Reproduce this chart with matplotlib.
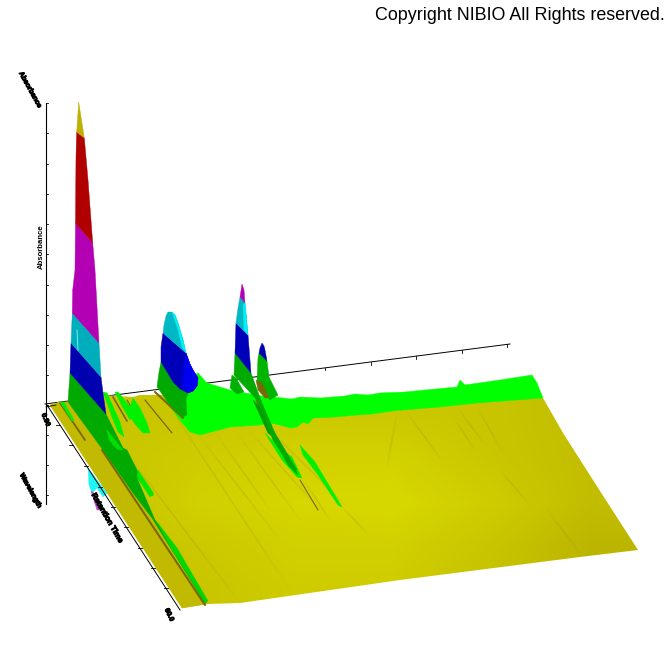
###########################################################################################################################
# 3D chromatogram surface (pixel coordinates)
###########################################################################################################################
# Imports
import numpy as np
import matplotlib
matplotlib.use('Agg')
import matplotlib.pyplot as plt
import matplotlib.patheffects as pe
from matplotlib.colors import LinearSegmentedColormap
from matplotlib.patches import Polygon

###########################################################################################################################
# Parameters
## Axes
vertical_axis_x = [45.5, 45.5]
vertical_axis_y = [103, 504]
vertical_ticks_y = [103, 133, 164, 194, 224, 254, 285, 315, 345, 375, 405, 435, 465, 495]
back_axis_x = [45, 510]
back_axis_y = [404, 344]
back_ticks_x = [325, 371, 416, 462, 507]
back_ticks_y = [367.9, 362, 356.2, 350.2, 344.4]
depth_axis_x = [47, 180]
depth_axis_y = [405, 610]
depth_ticks_x = [60, 73, 88, 102, 115, 128, 142, 155, 168]
depth_ticks_y = [425, 445, 466, 487, 507, 527, 548, 568, 588]

## Axis labels, too small to read in the picture: text, x, y, angle
label_text = ['Absorbance', 'Absorbance', '0.00', 'Wavelength', 'Retention Time', '60.0']
label_x = [30, 41, 45.5, 30.5, 106.5, 169]
label_y = [90, 247, 420, 491, 518, 615]
label_angle = [-61, 90, -67, -61, -60, -65]
label_size = [5.0, 5.6, 5.0, 5.0, 5.6, 5.0]
label_stroke = [0.7, 0, 0.7, 0.7, 0.7, 0.7]

## Shading of the flat yellow floor
shade_x = [50, 170, 290, 410, 530, 640]
shade_y = [395, 450, 500, 560, 610]
shade_values = [[.50, .55, .60, .60, .50, .30],
                [.50, .70, .85, .85, .55, .30],
                [.40, .80, .95, 1.0, .70, .30],
                [.30, .60, .80, .80, .50, .10],
                [.30, .50, .70, .70, .40, .10]]

## Surface outlines
floor = [(50, 405), (60, 402), (68, 402), (103, 395), (133, 397), (157, 390), (200, 400), (300, 400), (543, 398),
         (563, 433), (600, 491), (638, 550), (580, 557), (400, 580), (240, 603), (207, 604), (182, 608)]
floor_strip = [(50, 405), (60, 402), (68, 402), (103, 450), (152, 518), (207, 604), (182, 608)]
ridge = [(198, 373), (207, 383), (230, 390), (240, 392), (262, 396), (283, 398), (292, 399), (300, 397), (320, 398),
         (345, 396), (355, 394), (368, 395), (380, 393), (405, 392), (425, 390), (457, 387), (460, 380), (465, 385),
         (500, 380), (532, 375), (537, 383), (543, 398), (477, 403), (440, 407), (403, 410), (392, 411), (372, 414),
         (357, 415), (335, 417), (313, 418), (308, 424), (303, 422), (297, 427), (290, 428), (280, 425), (270, 423),
         (260, 425), (230, 427), (200, 435), (190, 432), (180, 420), (165, 400), (180, 385)]
p1_olive = [(78.7, 102), (84.3, 138), (76.7, 132)]
p1_red = [(76.7, 132), (84.3, 138), (88, 180), (92.7, 243), (75.5, 223), (76, 157)]
p1_magenta = [(75.5, 223), (92.7, 243), (95, 270), (99, 343), (72.3, 313), (72.7, 290), (75, 270)]
p1_teal = [(72.3, 313), (99, 343), (101, 377), (71, 343)]
p1_blue = [(71, 343), (101, 377), (103, 393), (106, 414), (70, 373)]
p1_green = [(70, 373), (68, 402), (103, 450), (133, 493), (152, 518), (205, 603), (207, 602), (177, 550), (155, 520),
            (137, 478), (153, 496), (138, 472), (127, 450), (123, 448), (106, 414)]
p2_teal = [(163, 333), (164, 325), (166, 316), (168, 312), (172, 312), (175, 315), (178, 323), (183, 340), (186, 353)]
p2_cyan = [(172, 312), (175, 315), (178, 323), (183, 340), (186, 353), (182, 347), (178, 330)]
p2_blue = [(163, 333), (186, 353), (190, 364), (193, 370), (198, 378), (197, 386), (193, 391), (188, 393), (180, 389),
           (173, 382), (161, 362), (161, 347)]
p2_bright_blue = [(186, 353), (190, 364), (193, 370), (198, 378), (197, 386), (193, 391), (188, 393), (182, 388),
                  (184, 365)]
p2_green = [(161, 362), (173, 382), (180, 389), (188, 393), (186, 400), (187, 415), (183, 417), (170, 405), (157, 387),
            (159, 372)]
p3_magenta = [(242, 284), (244, 290), (245, 303), (240, 297)]
p3_teal = [(240, 297), (245, 303), (248, 335), (236, 323), (238, 308)]
p3_cyan = [(245, 303), (248, 335), (244, 330), (243, 305)]
p3_blue = [(236, 323), (248, 335), (251, 373), (235, 353)]
p3_green = [(235, 353), (251, 373), (262, 403), (275, 433), (297, 470), (293, 470), (273, 440), (257, 400), (234, 375)]
p3_bump = [(232, 375), (236, 378), (244, 392), (237, 394), (230, 388)]
p4_blue = [(262, 343), (264, 346), (265, 350), (267, 361), (259, 353), (260, 348)]
p4_green = [(259, 353), (267, 361), (269, 377), (278, 395), (270, 400), (257, 382), (258, 358)]
p4_brown = [(256, 380), (262, 383), (269, 398), (265, 398), (258, 390)]
small_a = [(103, 392), (107, 393), (120, 422), (124, 437), (118, 432), (112, 417)]
small_b = [(115, 392), (118, 392), (135, 413), (130, 420), (122, 406)]
small_c = [(133, 398), (140, 408), (147, 423), (150, 433), (143, 433), (135, 424), (128, 413)]
small_d = [(60, 402), (64, 402), (74, 420), (72, 421)]
small_e = [(107, 430), (118, 444), (123, 450), (117, 449), (109, 440)]
notch_edge = [(138, 470), (154, 494), (150, 497), (137, 477)]
lower_edge = [(157, 522), (177, 548), (208, 601), (205, 602), (172, 550)]
streak_a = [(265, 433), (282, 450), (292, 457), (302, 478), (297, 477), (282, 460)]
streak_a_dark = [(280, 450), (291, 461), (298, 475), (288, 465)]
streak_b = [(300, 445), (315, 462), (342, 507), (338, 505), (318, 475), (303, 455)]
streak_c = [(253, 400), (262, 410), (273, 437), (268, 433)]

## Brown folds: x1, y1, x2, y2, width
fold_x1 = [102, 60, 113, 155, 127, 145, 256, 300]
fold_y1 = [450, 403, 397, 392, 400, 400, 400, 480]
fold_x2 = [205, 85, 127, 183, 145, 172, 275, 318]
fold_y2 = [605, 440, 421, 418, 431, 433, 440, 510]
fold_w = [1.5, 1.3, 1.2, 1.5, 0.9, 0.9, 1.0, 0.8]

## Faint olive streaks on the floor
faint_x1 = [477, 405, 457, 547, 397, 217, 237, 342, 305, 120, 165, 500, 455, 250, 270, 200]
faint_y1 = [407, 410, 407, 510, 413, 435, 433, 507, 482, 445, 400, 470, 420, 432, 430, 437]
faint_x2 = [503, 443, 485, 580, 387, 270, 300, 367, 330, 240, 290, 530, 475, 320, 345, 280]
faint_y2 = [453, 462, 445, 553, 467, 510, 520, 533, 520, 603, 590, 505, 450, 510, 505, 540]

###########################################################################################################################
# Definitions
def fill(outline, color, zorder):
    """ Draws one band of the surface from its outline. """

    ax.add_patch(Polygon(outline, closed=True, facecolor=color, edgecolor=color, linewidth=0.3, zorder=zorder))

def faint_streak(x1, y1, x2, y2):
    """ Draws a streak that fades out at both of its ends. """

    steps = np.linspace(0, 1, 11)
    for a, b in zip(steps[:-1], steps[1:]):
        alpha = 0.22 * np.sin(np.pi * (a + b) / 2) ** 0.8
        ax.plot([x1 + a * (x2 - x1), x1 + b * (x2 - x1)], [y1 + a * (y2 - y1), y1 + b * (y2 - y1)],
                color='#98900a', lw=1.2, alpha=alpha, solid_capstyle='butt', zorder=3)

###########################################################################################################################
# Global scripts
fig = plt.figure(figsize=(6.72, 6.72), dpi=100)
ax = fig.add_axes([0, 0, 1, 1])
ax.set_xlim(0, 672)
ax.set_ylim(672, 0)
ax.axis('off')

## Back axis goes behind the surface
ax.plot(back_axis_x, back_axis_y, color='black', lw=0.7, zorder=1)
for x, y in zip(back_ticks_x, back_ticks_y):
    ax.plot([x, x], [y, y + 2.5], color='black', lw=0.6, zorder=1)

## Floor with its soft shading
floor_cmap = LinearSegmentedColormap.from_list('floor', ['#b9b200', '#d8d800'])
img = ax.imshow(np.array(shade_values), cmap=floor_cmap, vmin=0, vmax=1, interpolation='bilinear', aspect='auto',
                extent=[shade_x[0], shade_x[-1], shade_y[-1], shade_y[0]], zorder=2)
floor_patch = Polygon(floor, closed=True, transform=ax.transData, facecolor='none', edgecolor='none')
ax.add_patch(floor_patch)
img.set_clip_path(floor_patch)
ax.set_xlim(0, 672)
ax.set_ylim(672, 0)
fill(floor_strip, '#c2ba00', 2.5)

## Floor streaks
for x1, y1, x2, y2 in zip(faint_x1, faint_y1, faint_x2, faint_y2):
    faint_streak(x1, y1, x2, y2)

## Bright ridge and small peaks
fill(ridge, '#00ff00', 4)
for band in [small_a, small_b, small_c, small_d, streak_a, streak_b]:
    fill(band, '#00f000', 5)
fill(streak_a_dark, '#00aa00', 6)
fill(streak_c, '#009a00', 6)

## Folds
for x1, y1, x2, y2, w in zip(fold_x1, fold_y1, fold_x2, fold_y2, fold_w):
    ax.plot([x1, x2], [y1, y2], color='#786808', lw=w, solid_capstyle='round', zorder=4.5)

## Main peak
fill(p1_green, '#00aa00', 7)
fill(notch_edge, '#00e800', 8)
fill(lower_edge, '#00d800', 8)
fill(small_e, '#00e000', 8)
fill(p1_blue, '#0000b0', 8)
fill(p1_teal, '#00adbd', 8)
fill(p1_magenta, '#b400b4', 8)
fill(p1_red, '#b00000', 8)
fill(p1_olive, '#bdb000', 8)
ax.plot([77, 78], [330, 350], color='#70f0f0', lw=0.7, zorder=9)

## Second peak
fill(p2_green, '#00aa00', 7)
fill(p2_blue, '#0000b8', 8)
fill(p2_bright_blue, '#0000f0', 9)
fill(p2_teal, '#00b8c4', 8)
fill(p2_cyan, '#00f0f5', 9)

## Third peak
fill(p3_bump, '#00b000', 7)
fill(p3_green, '#00aa00', 7)
fill(p3_blue, '#0000b8', 8)
fill(p3_teal, '#00b8c4', 8)
fill(p3_cyan, '#00f0f5', 9)
fill(p3_magenta, '#b400b4', 8)

## Fourth peak
fill(p4_green, '#00b400', 7)
fill(p4_brown, '#786808', 8)
fill(p4_blue, '#0000b0', 8)

## Cyan and magenta leftovers under the depth axis
fill([(88, 468), (97, 480), (107, 493), (103, 497), (97, 488), (92, 493), (89, 485)], '#20f5f5', 3)
fill([(91, 491), (94, 493), (100, 510), (97, 510)], '#c040c0', 3)

## Axes in front
ax.plot(vertical_axis_x, vertical_axis_y, color='black', lw=0.8, zorder=10)
for y in vertical_ticks_y:
    ax.plot([45.5, 47.5], [y, y], color='black', lw=0.6, zorder=10)
ax.plot(depth_axis_x, depth_axis_y, color='black', lw=0.7, zorder=10)
ax.plot([46, 56], [407, 405], color='black', lw=0.6, zorder=10)
for x, y in zip(depth_ticks_x, depth_ticks_y):
    ax.plot([x - 4, x], [y, y], color='black', lw=0.6, zorder=10)

## Text
for text, x, y, angle, size, stroke in zip(label_text, label_x, label_y, label_angle, label_size, label_stroke):
    t = ax.text(x, y, text, rotation=angle, rotation_mode='anchor', ha='center', va='center', fontsize=size,
                fontweight='bold', color='black', family='Liberation Sans', zorder=11)
    if stroke:
        t.set_path_effects([pe.withStroke(linewidth=stroke, foreground='black')])
ax.text(375, 20, 'Copyright NIBIO All Rights reserved.', fontsize=12.9, family='Liberation Sans', color='black',
        ha='left', va='baseline', zorder=11)

## Finalize and save
fig.savefig('out.png', dpi=100, facecolor='white')
